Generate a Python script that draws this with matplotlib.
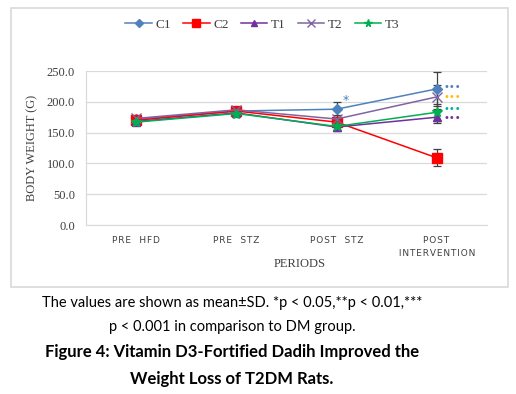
import numpy as np
import matplotlib.pyplot as plt
from matplotlib.patches import Rectangle

periods = ["PRE HFD", "PRE STZ", "POST STZ", "POST\nINTERVENTION"]
groups = ["C1", "C2", "T1", "T2", "T3"]

c1 = [172, 185, 188, 221]
c2 = [170, 185, 167, 109]
t1 = [168, 182, 159, 175]
t2 = [173, 187, 172, 208]
t3 = [167, 181, 160, 183]

c1_sd = [4, 4, 12, 28]
c2_sd = [4, 4, 8, 14]
t1_sd = [4, 4, 6, 10]
t2_sd = [4, 4, 6, 20]
t3_sd = [4, 4, 6, 14]

colors = ["#4F81BD", "#FF0000", "#7030A0", "#8064A2", "#00B050"]
markers = ["D", "s", "^", "x", "*"]
msizes = [5, 7, 6, 7, 7]

# significance marks: (period index, value, text, colour)
sig_marks = [(2, 192, "*", "#4F81BD"),
             (3, 224, "•••", "#4F81BD"),
             (3, 208, "•••", "#FFC000"),
             (3, 188, "•••", "#00B0A0"),
             (3, 173, "•••", "#7030A0")]

fig = plt.figure(figsize=(5.16, 3.94), dpi=100)
fig.patches.append(Rectangle((11/516, 1-287/394), 497/516, 279/394,
                             transform=fig.transFigure, fill=False,
                             edgecolor="#D9D9D9", linewidth=1.2))

ax = fig.add_axes([86/516, 1-225/394, 401/516, 154/394])
x = np.arange(len(periods))
data = [c1, c2, t1, t2, t3]
sds = [c1_sd, c2_sd, t1_sd, t2_sd, t3_sd]

for i in range(len(groups)):
    ax.errorbar(x, data[i], yerr=sds[i], fmt="none", ecolor="#404040",
                elinewidth=0.9, capsize=3, capthick=0.9, zorder=2)
for i in range(len(groups)):
    ax.plot(x, data[i], color=colors[i], marker=markers[i], markersize=msizes[i],
            linewidth=1.1, label=groups[i], zorder=3)

for idx, val, txt, col in sig_marks:
    if txt == "*":
        ax.text(idx + 0.06, val, txt, color=col, fontsize=9, ha="left", va="bottom")
    else:
        ax.text(idx + 0.07, val, txt, color=col, fontsize=7, ha="left", va="center")

ax.set_xlim(-0.5, 3.5)
ax.set_ylim(0, 250)
ax.set_yticks(np.arange(0, 251, 50))
ax.set_yticklabels([f"{v:.1f}" for v in np.arange(0, 251, 50)],
                   family="Liberation Serif", fontsize=9, color="#404040")
ax.set_xticks(x)
ax.set_xticklabels(["\u200a".join(p.replace(" ", "  ")) for p in periods],
                   fontsize=6.5, color="#404040", linespacing=1.6)
ax.tick_params(length=0, pad=8)
ax.grid(axis="y", color="#D9D9D9", linewidth=0.9)
ax.set_axisbelow(True)
for s in ["top", "right"]:
    ax.spines[s].set_visible(False)
ax.spines["left"].set_color("#D9D9D9")
ax.spines["bottom"].set_color("#D9D9D9")

ax.set_ylabel("BODY WEIGHT (G)", family="Liberation Serif", fontsize=9, color="#404040", labelpad=6)
fig.text(300/516, 1-264/394, "PERIODS", family="Liberation Serif", fontsize=9,
         color="#404040", ha="center", va="center")

ax.legend(loc="center", bbox_to_anchor=(0.44, 1.30), ncol=5, frameon=False,
          prop={"family": "Liberation Serif", "size": 9.5}, handlelength=2.0,
          columnspacing=0.9, handletextpad=0.3, labelcolor="#404040", markerscale=0.8)

cap_font = "Lato"
fig.text(232/516, 1-303/394, "The values are shown as mean±SD. *p < 0.05,**p < 0.01,***",
         family=cap_font, fontsize=10.5, ha="center", va="center")
fig.text(232/516, 1-327/394, "p < 0.001 in comparison to DM group.",
         family=cap_font, fontsize=10.5, ha="center", va="center")
fig.text(232/516, 1-352/394, "Figure 4: Vitamin D3-Fortified Dadih Improved the",
         family=cap_font, fontsize=12, fontweight="bold", ha="center", va="center")
fig.text(232/516, 1-379/394, "Weight Loss of T2DM Rats.",
         family=cap_font, fontsize=12, fontweight="bold", ha="center", va="center")

fig.savefig("out.png", dpi=100)
